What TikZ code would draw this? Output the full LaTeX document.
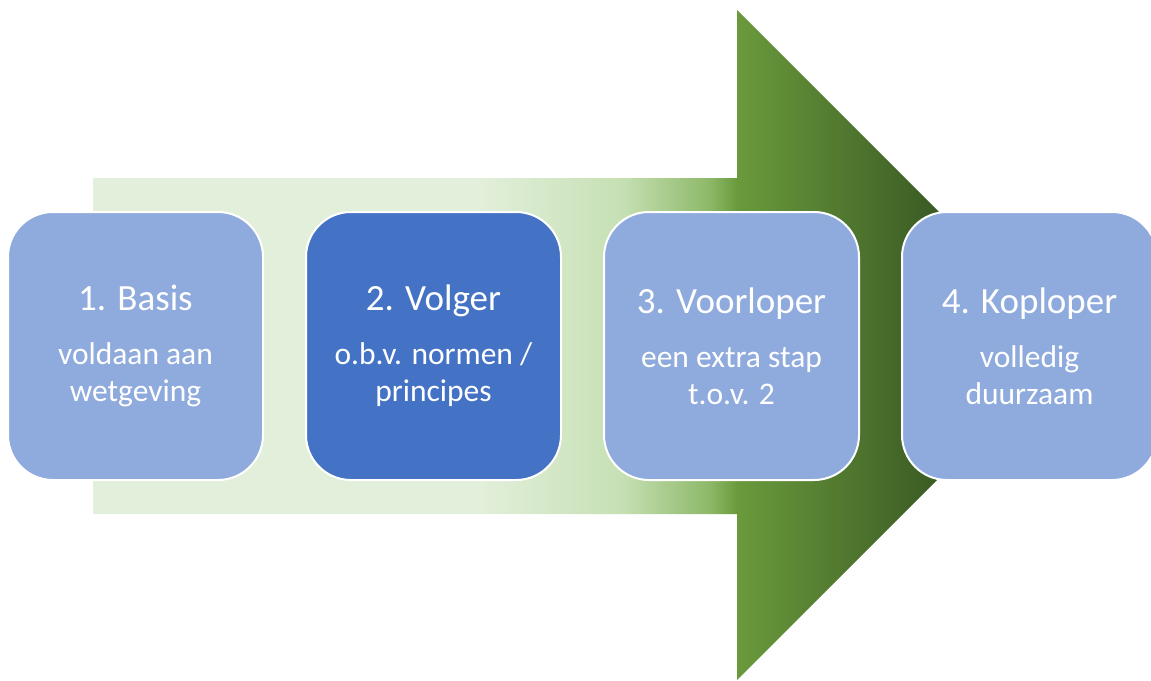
\documentclass[tikz,border=0pt]{standalone}
\usepackage{fontspec}
\setmainfont{Carlito}
\usetikzlibrary{positioning}

\definecolor{pijllicht}{HTML}{E2EFDA}
\definecolor{pijlmid}{HTML}{C6E0B4}
\definecolor{pijlgroen}{HTML}{8DB868}
\definecolor{pijlrand}{HTML}{6A9A3C}
\definecolor{pijldonker}{HTML}{3A5A24}
\definecolor{pijlpunt}{HTML}{2E4A1C}
\definecolor{staplicht}{HTML}{8FAADC}
\definecolor{stapdonker}{HTML}{4472C4}

\pgfdeclarehorizontalshading{pijlshade}{100bp}{color(0bp)=(pijllicht); color(44.8bp)=(pijllicht); color(52bp)=(pijlmid); color(56.5bp)=(pijlgroen); color(57.9bp)=(pijlrand); color(68.2bp)=(pijldonker); color(75bp)=(pijlpunt); color(100bp)=(pijlpunt)}

\newcommand{\kop}{\fontsize{37}{44}\selectfont}
\newcommand{\onder}{\fontsize{31.5}{35}\selectfont}

\begin{document}
\begin{tikzpicture}[x=1pt,y=-1pt,node distance=298pt,on grid,
	stapbox/.style={draw=white,line width=2pt,fill=staplicht,rounded corners=45pt,
		minimum width=255pt,minimum height=268pt,inner sep=0pt,
		text=white,align=center,font=\onder}]
	\useasboundingbox (0,0) rectangle (1151,680);
	% de pijl
	\path[shading=pijlshade] (93,178) -- (737,178) -- (737,10) -- (1072,345)
		-- (737,680) -- (737,514) -- (93,514) -- cycle;
	% de stappen
	\node[stapbox] (basis) at (135.5,346) {{\kop 1. Basis}\\[19pt]voldaan aan\\[2pt]wetgeving};
	\node[stapbox,fill=stapdonker] (volger) [right=of basis] {{\kop 2. Volger}\\[19pt]o.b.v. normen /\\[2pt]principes};
	\node[stapbox] (voorloper) [right=of volger] {{\kop 3. Voorloper}\\[19pt]een extra stap\\[2pt]t.o.v. 2};
	\node[stapbox] (koploper) [right=of voorloper] {{\kop 4. Koploper}\\[19pt]volledig\\[2pt]duurzaam};
\end{tikzpicture}
\end{document}
